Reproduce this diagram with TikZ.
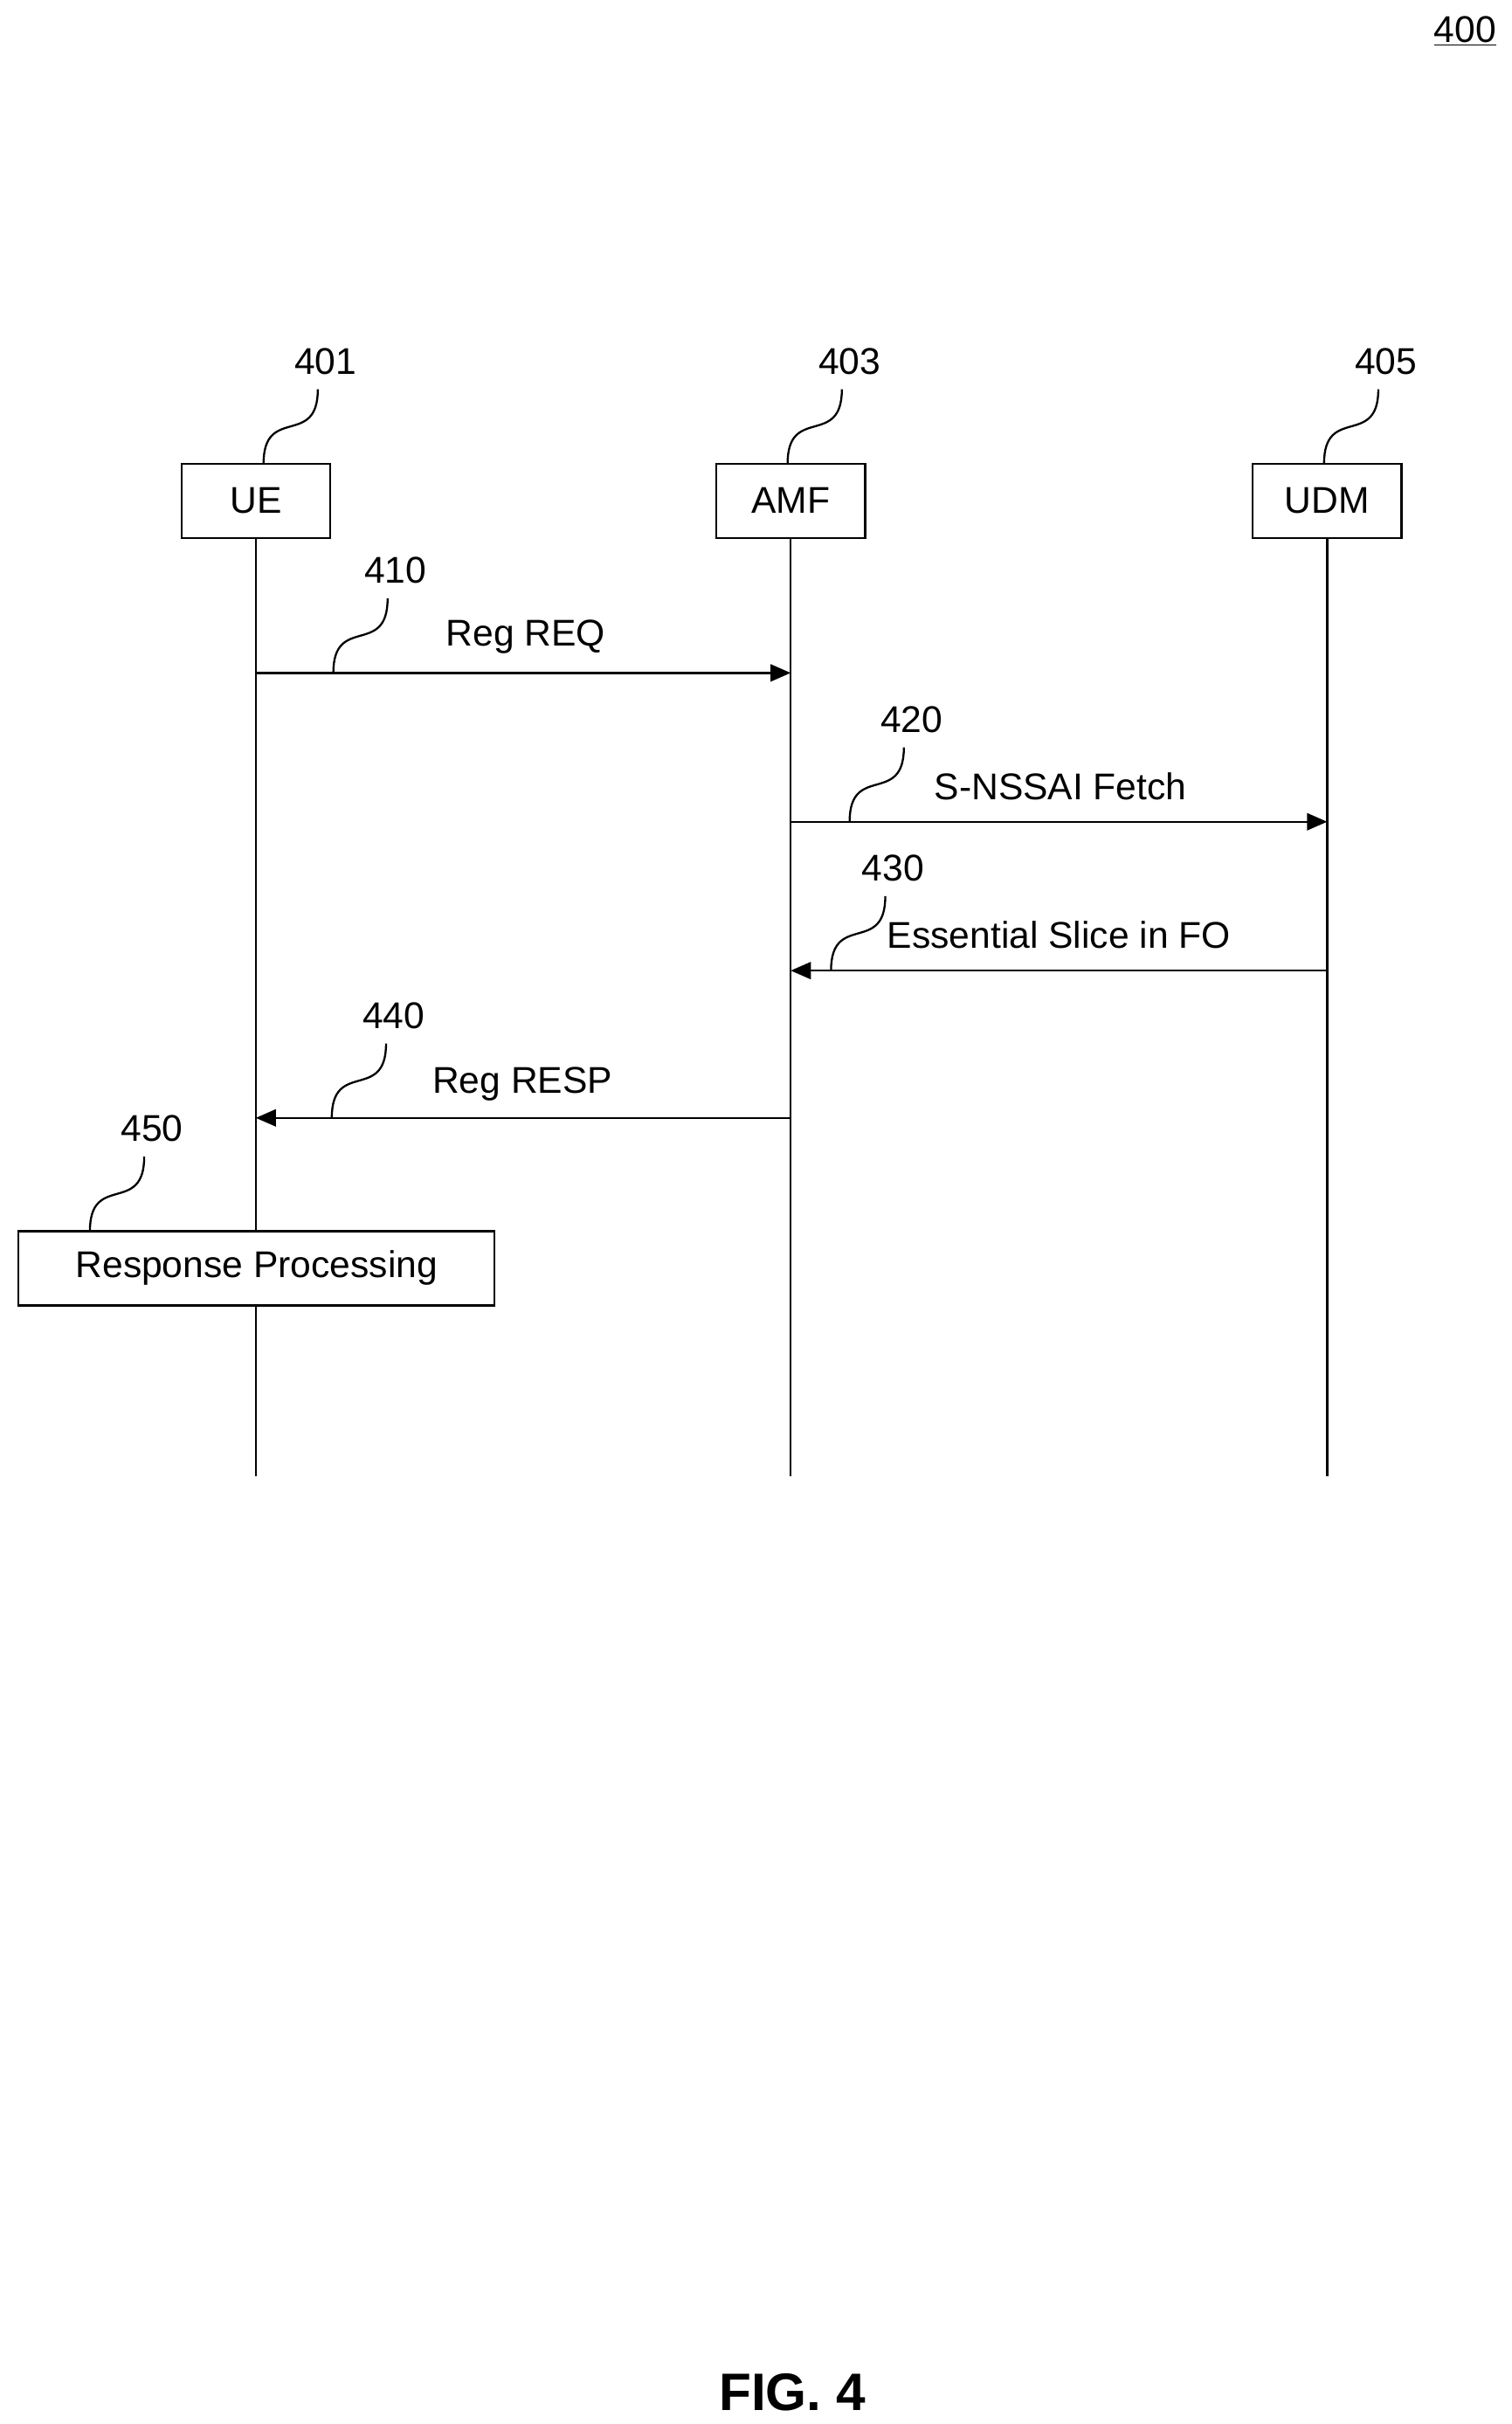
\documentclass[tikz,border=0pt]{standalone}
\usepackage{fontspec}
\setmainfont{Liberation Sans}
\usetikzlibrary{arrows.meta}
\begin{document}
\begin{tikzpicture}[x=1pt,y=-1pt,
  ent/.style={draw,line width=1.3pt,minimum width=96pt,minimum height=48pt,inner sep=0pt,font=\fontsize{24}{28}\selectfont},
  txt/.style={font=\fontsize{24}{28}\selectfont,inner sep=0pt},
  life/.style={line width=1.3pt},
  msg/.style={line width=1.3pt,-{Triangle[length=13pt,width=11pt]}},
  sq/.style={line width=1.3pt}]
\useasboundingbox (0,0) rectangle (975.2,1563.4);
\node[txt] (n400) at (945,20) {\underline{400}};
\node[ent] (ue) at (165,323) {UE};
\node[ent] (amf) at (510,323) {AMF};
\node[ent] (udm) at (856,323) {UDM};
\coordinate (ueE) at (165,952);
\coordinate (amfE) at (510,952);
\coordinate (udmE) at (856,952);
\draw[life] (ue.south) -- (ueE);
\draw[life] (amf.south) -- (amfE);
\draw[life] (udm.south) -- (udmE);
\newcommand{\squig}[3]{\draw[sq] (#1,#2) .. controls (#1,#2-38) and (#1+35,#2-10) .. (#1+35,#2-48);\node[txt] at (#1+40,#2-66) {#3};}
\squig{170}{299}{401}
\squig{508}{299}{403}
\squig{854}{299}{405}
% messages
\coordinate (a1) at (165,434); \coordinate (b1) at (510,434);
\draw[msg] (a1) -- (b1);
\node[txt] at (339,411) {Reg REQ};
\squig{215}{434}{410}
\coordinate (a2) at (510,530); \coordinate (b2) at (856,530);
\draw[msg] (a2) -- (b2);
\node[txt] at (684,507) {S-NSSAI Fetch};
\squig{548}{530}{420}
\coordinate (a3) at (856,626); \coordinate (b3) at (510,626);
\draw[msg] (a3) -- (b3);
\node[txt] at (683,603) {Essential Slice in FO};
\squig{536}{626}{430}
\coordinate (a4) at (510,721); \coordinate (b4) at (165,721);
\draw[msg] (a4) -- (b4);
\node[txt] at (337,699) {Reg RESP};
\squig{214}{721}{440}
\node[ent,minimum width=307pt,fill=white] (rp) at (165.5,818) {Response Processing};
\squig{58}{794}{450}
\node[txt,font=\bfseries\fontsize{34}{40}\selectfont] (fig) at (511,1543) {FIG. 4};
\end{tikzpicture}
\end{document}
